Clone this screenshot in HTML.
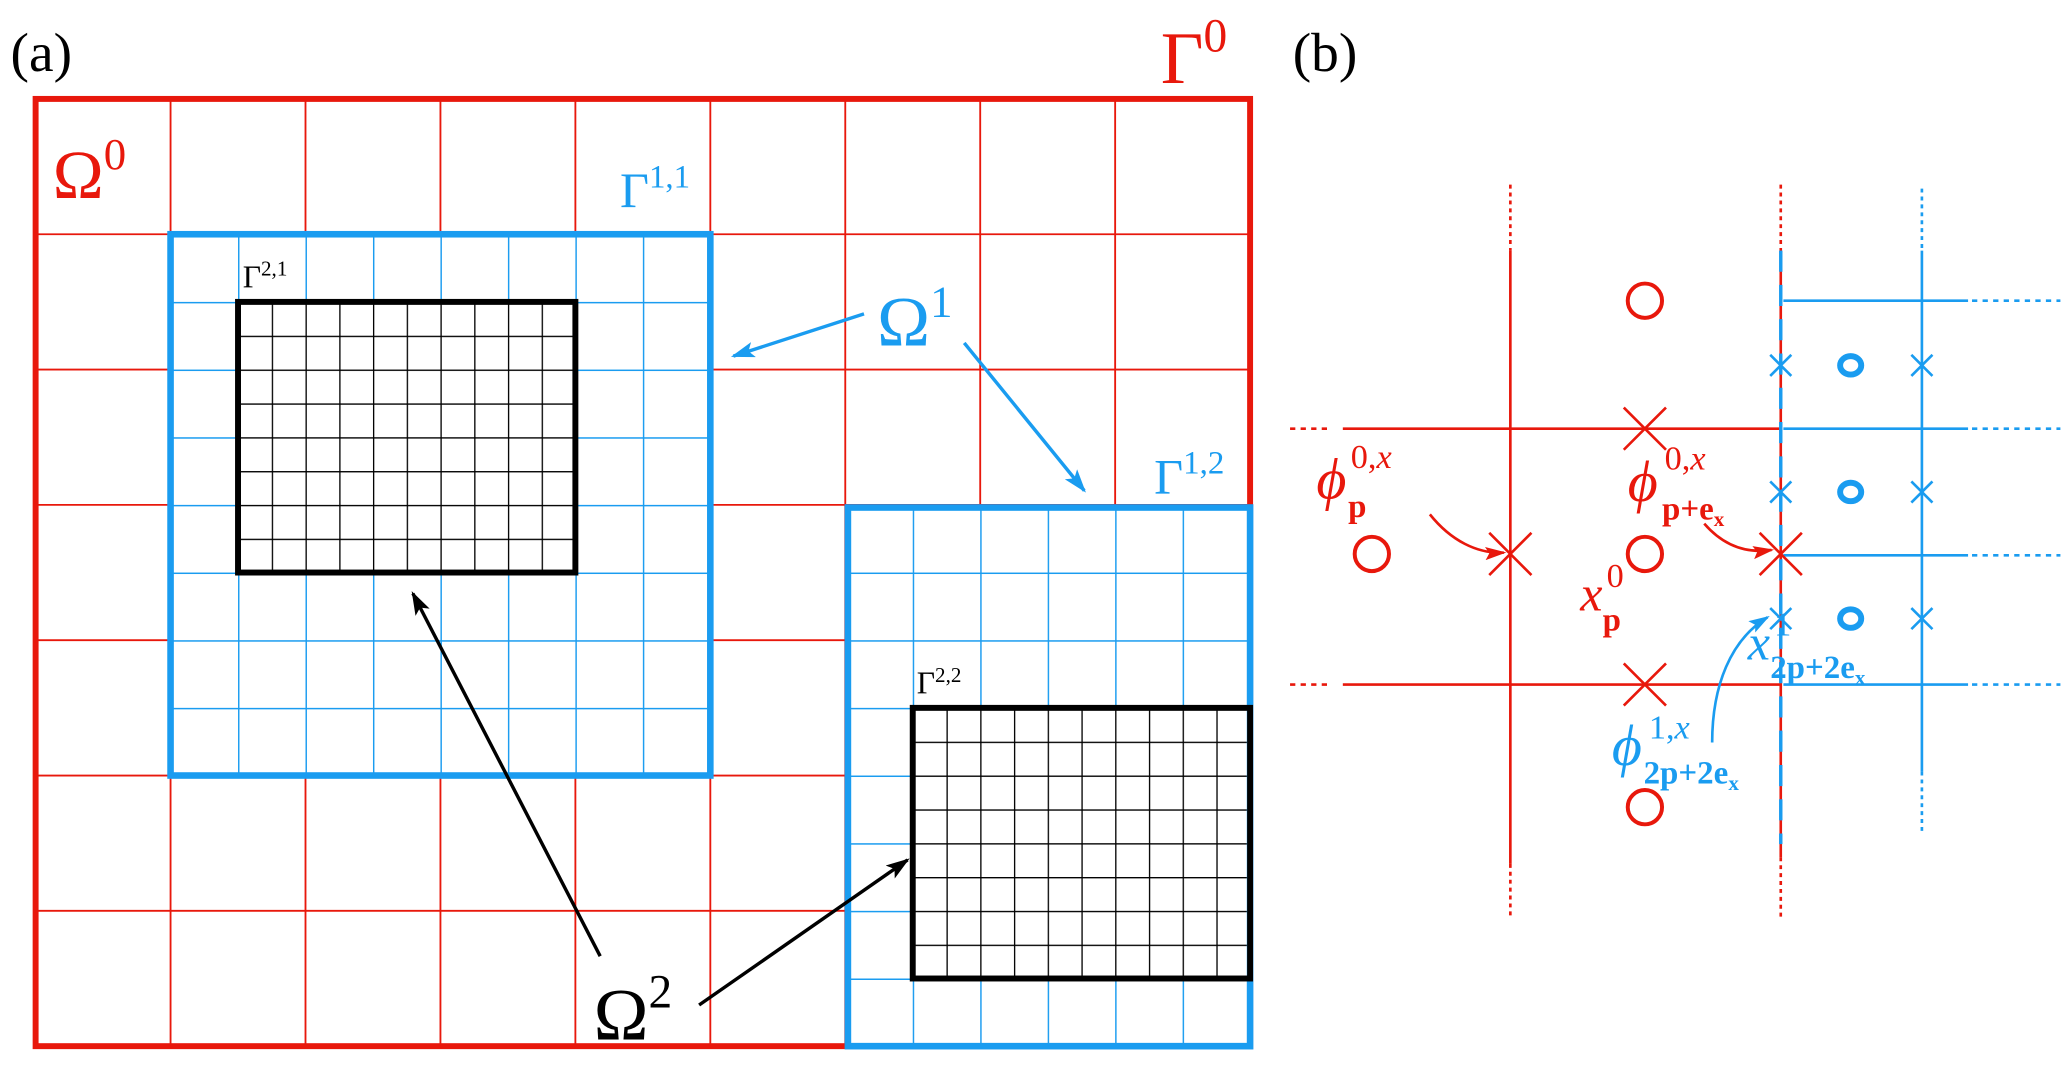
<!DOCTYPE html>
<html><head><meta charset="utf-8"><style>
html,body{margin:0;padding:0;background:#fff;}
svg{display:block;}
text{font-family:"Liberation Serif",serif;}
</style></head><body>
<svg width="2067" height="1067" viewBox="0 0 1567 809" preserveAspectRatio="none" xmlns="http://www.w3.org/2000/svg">
<defs>
<pattern id="b1" patternUnits="userSpaceOnUse" x="129.3" y="177.6" width="51.15" height="51.3"><path d="M0 0V51.3M0 0H51.15" stroke="#1a9cf0" stroke-width="2.2" fill="none"/></pattern>
<pattern id="b2" patternUnits="userSpaceOnUse" x="640.8" y="382.8" width="51.15" height="51.3"><path d="M0 0V51.3M0 0H51.15" stroke="#1a9cf0" stroke-width="2.2" fill="none"/></pattern>
<pattern id="k1" patternUnits="userSpaceOnUse" x="180.45" y="228.9" width="25.575" height="25.65"><path d="M0 0V25.65M0 0H25.575" stroke="#000" stroke-width="2" fill="none"/></pattern>
<pattern id="k2" patternUnits="userSpaceOnUse" x="691.95" y="536.7" width="25.575" height="25.65"><path d="M0 0V25.65M0 0H25.575" stroke="#000" stroke-width="2" fill="none"/></pattern>
<marker id="ab" markerWidth="18" markerHeight="12" refX="16" refY="6" orient="auto" markerUnits="userSpaceOnUse"><path d="M0 0L18 6L0 12L4 6z" fill="#1a9cf0"/></marker>
<marker id="ak" markerWidth="18" markerHeight="12" refX="16" refY="6" orient="auto" markerUnits="userSpaceOnUse"><path d="M0 0L18 6L0 12L4 6z" fill="#000"/></marker>
<marker id="ar" markerWidth="16" markerHeight="10" refX="14" refY="5" orient="auto" markerUnits="userSpaceOnUse"><path d="M0 0L16 5L0 10L3 5z" fill="#e8180c"/></marker>
<marker id="ab2" markerWidth="16" markerHeight="10" refX="14" refY="5" orient="auto" markerUnits="userSpaceOnUse"><path d="M0 0L16 5L0 10L3 5z" fill="#1a9cf0"/></marker>
</defs>
<g stroke="#e8180c" stroke-width="1.4">
<path d="M129.3 75V793M231.6 75V793M333.9 75V793M436.2 75V793M538.5 75V793M640.8 75V793M743.1 75V793M845.4 75V793"/>
<path d="M27 177.6H948M27 280.2H948M27 382.8H948M27 485.4H948M27 588H948M27 690.6H948"/>
</g>
<rect x="27" y="75" width="920.7" height="718.2" fill="none" stroke="#e8180c" stroke-width="4.5"/>
<rect x="129.3" y="177.6" width="409.2" height="410.4" fill="#fff"/>
<rect x="129.3" y="177.6" width="409.2" height="410.4" fill="url(#b1)"/>
<rect x="640.8" y="382.8" width="306.9" height="410.4" fill="#fff"/>
<rect x="640.8" y="382.8" width="306.9" height="410.4" fill="url(#b2)"/>
<rect x="180.45" y="228.9" width="255.75" height="205.2" fill="#fff"/>
<rect x="180.45" y="228.9" width="255.75" height="205.2" fill="url(#k1)"/>
<rect x="691.95" y="536.7" width="255.75" height="205.2" fill="#fff"/>
<rect x="691.95" y="536.7" width="255.75" height="205.2" fill="url(#k2)"/>
<rect x="129.3" y="177.6" width="409.2" height="410.4" fill="none" stroke="#1a9cf0" stroke-width="5"/>
<rect x="642.8" y="384.8" width="304.9" height="408.4" fill="none" stroke="#1a9cf0" stroke-width="5"/>
<rect x="180.45" y="228.9" width="255.75" height="205.2" fill="none" stroke="#000" stroke-width="4.5"/>
<rect x="691.95" y="536.7" width="255.75" height="205.2" fill="none" stroke="#000" stroke-width="4.5"/>
<g stroke-width="2.6" fill="none">
<path d="M655 238L556 270" stroke="#1a9cf0" marker-end="url(#ab)"/>
<path d="M731 260L822 372" stroke="#1a9cf0" marker-end="url(#ab)"/>
<path d="M455 725L313 450" stroke="#000" marker-end="url(#ak)"/>
<path d="M530 762L688 652" stroke="#000" marker-end="url(#ak)"/>
</g>
<text x="8" y="54" font-size="42">(a)</text>
<text x="880" y="63" font-size="56" fill="#e8180c">Γ<tspan font-size="36" dy="-24">0</tspan></text>
<text x="40" y="150" font-size="52" fill="#e8180c">Ω<tspan font-size="34" dy="-22">0</tspan></text>
<text x="470" y="157" font-size="38" fill="#1a9cf0">Γ<tspan font-size="25" dy="-15">1,1</tspan></text>
<text x="184" y="218" font-size="24">Γ<tspan font-size="16" dy="-9">2,1</tspan></text>
<text x="665" y="262" font-size="54" fill="#1a9cf0">Ω<tspan font-size="34" dy="-22">1</tspan></text>
<text x="875" y="374" font-size="38" fill="#1a9cf0">Γ<tspan font-size="25" dy="-15">1,2</tspan></text>
<text x="695" y="526" font-size="24">Γ<tspan font-size="16" dy="-9">2,2</tspan></text>
<text x="450" y="788" font-size="56">Ω<tspan font-size="36" dy="-24">2</tspan></text>
<text x="980" y="54" font-size="42">(b)</text>
<g stroke="#e8180c" stroke-width="2" fill="none">
<path d="M1145 140V190M1145 655V695M1350 140V190M1350 650V695" stroke-dasharray="3 3"/>
<path d="M1145 190V655M1350 190V650"/>
<path d="M978 325H1008M978 519H1008" stroke-dasharray="4 4"/>
<path d="M1018 325H1350M1018 519H1350"/>
</g>
<g stroke="#1a9cf0" stroke-width="2" fill="none">
<path d="M1457 143V190M1457 585V632" stroke-dasharray="3 3"/>
<path d="M1457 190V585"/>
<path d="M1352 228H1492M1352 325H1492M1352 421H1492M1352 519H1492"/>
<path d="M1495 228H1562M1495 325H1562M1495 421H1562M1495 519H1562" stroke-dasharray="4 4"/>
<path d="M1350 190V640" stroke-width="2.6" stroke-dasharray="16 10"/>
</g>
<g stroke="#e8180c" stroke-width="3" fill="none">
<circle cx="1247" cy="228" r="13"/><circle cx="1040" cy="420" r="13"/><circle cx="1247" cy="420" r="13"/><circle cx="1247" cy="612" r="13"/>
</g>
<g stroke="#e8180c" stroke-width="2" fill="none">
<path d="M1231 309L1263 341M1263 309L1231 341"/>
<path d="M1129 404L1161 436M1161 404L1129 436"/>
<path d="M1334 404L1366 436M1366 404L1334 436"/>
<path d="M1231 503L1263 535M1263 503L1231 535"/>
</g>
<g stroke="#1a9cf0" stroke-width="4.5" fill="none">
<ellipse cx="1403" cy="277" rx="8" ry="7"/><ellipse cx="1403" cy="373" rx="8" ry="7"/><ellipse cx="1403" cy="469" rx="8" ry="7"/>
</g>
<g stroke="#1a9cf0" stroke-width="2" fill="none">
<path d="M1342 269L1358 285M1358 269L1342 285M1449 269L1465 285M1465 269L1449 285"/>
<path d="M1342 365L1358 381M1358 365L1342 381M1449 365L1465 381M1465 365L1449 381"/>
<path d="M1342 461L1358 477M1358 461L1342 477M1449 461L1465 477M1465 461L1449 477"/>
</g>
<g fill="none" stroke-width="2">
<path d="M1084 390C1100 410 1120 420 1140 419" stroke="#e8180c" marker-end="url(#ar)"/>
<path d="M1292 397C1305 412 1322 420 1343 417" stroke="#e8180c" marker-end="url(#ar)"/>
<path d="M1298 563C1298 520 1312 485 1340 468" stroke="#1a9cf0" marker-end="url(#ab2)"/>
</g>
<g fill="#e8180c">
<text x="998" y="378" font-size="44" font-style="italic">ϕ</text>
<text x="1022" y="392" font-size="25" font-weight="bold">p</text>
<text x="1024" y="355" font-size="26">0,<tspan font-style="italic">x</tspan></text>
<text x="1234" y="380" font-size="44" font-style="italic">ϕ</text>
<text x="1260" y="394" font-size="25" font-weight="bold">p+e<tspan font-size="16" dy="5">x</tspan></text>
<text x="1262" y="356" font-size="26">0,<tspan font-style="italic">x</tspan></text>
<text x="1198" y="463" font-size="38" font-style="italic">x</text>
<text x="1215" y="478" font-size="25" font-weight="bold">p</text>
<text x="1218" y="445" font-size="26">0</text>
</g>
<g fill="#1a9cf0">
<text x="1325" y="500" font-size="38" font-style="italic">x</text>
<text x="1345" y="482" font-size="26">1</text>
<text x="1342" y="514" font-size="25" font-weight="bold">2p+2e<tspan font-size="16" dy="5">x</tspan></text>
<text x="1222" y="580" font-size="44" font-style="italic">ϕ</text>
<text x="1250" y="560" font-size="26">1,<tspan font-style="italic">x</tspan></text>
<text x="1246" y="594" font-size="25" font-weight="bold">2p+2e<tspan font-size="16" dy="5">x</tspan></text>
</g>
</svg>
</body></html>
